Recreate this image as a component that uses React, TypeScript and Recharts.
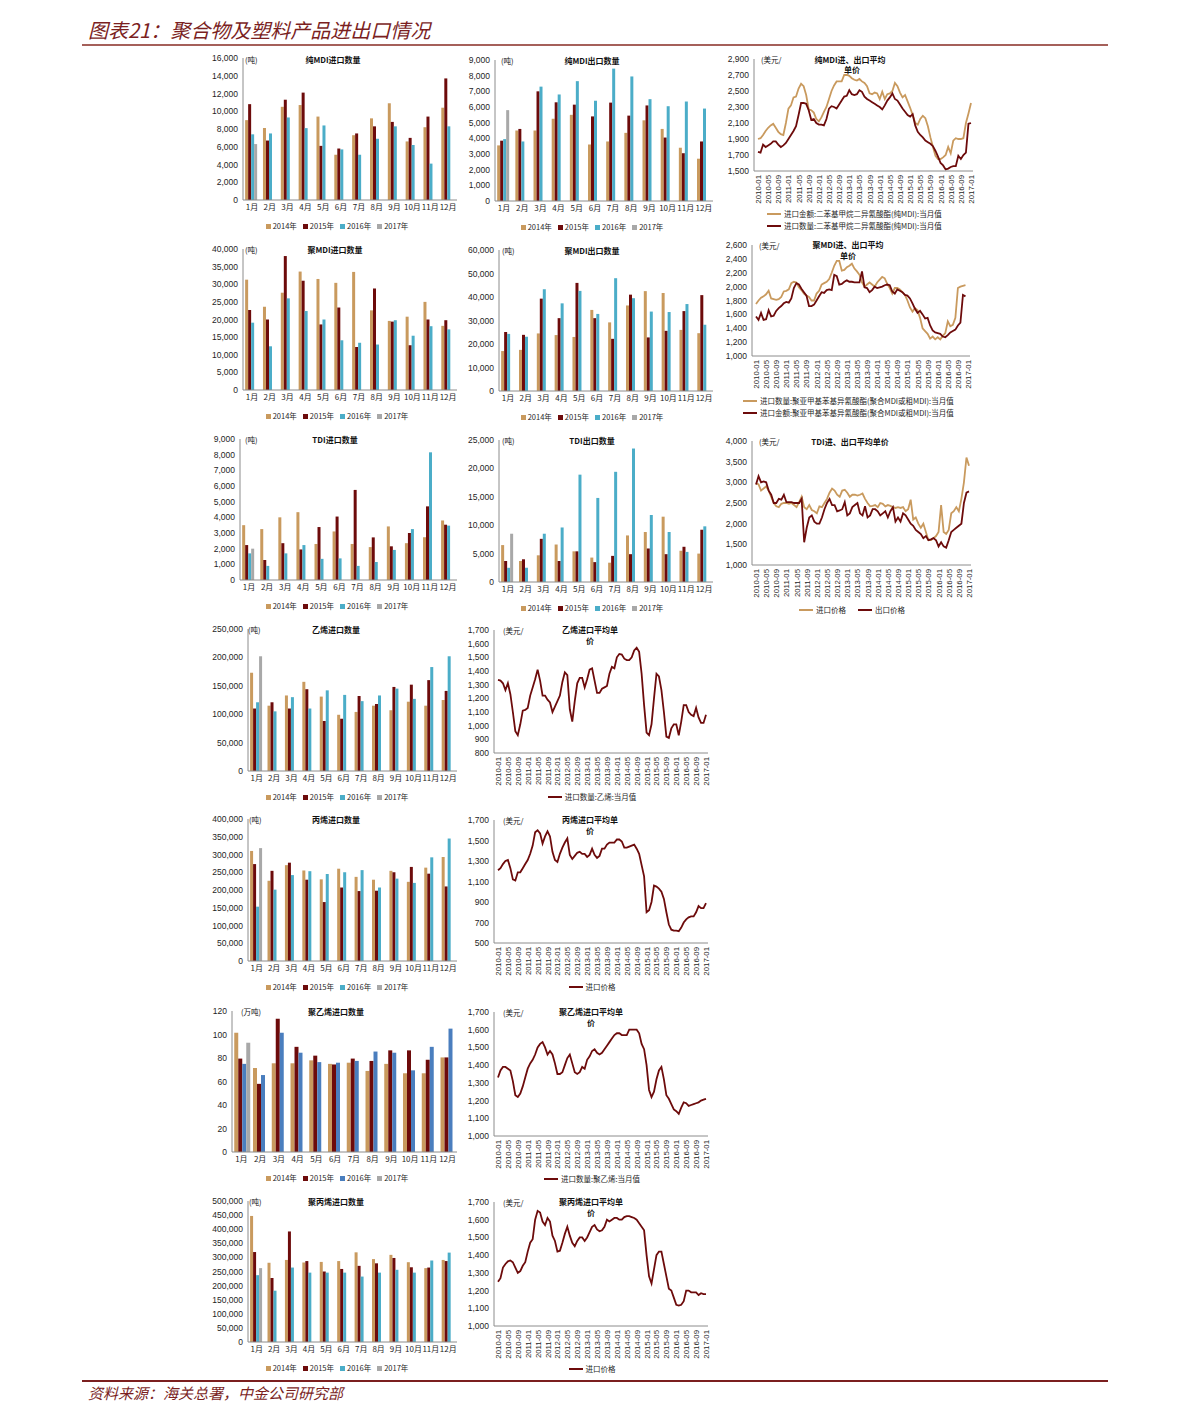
import React from "react"
import { BarChart, Bar, LineChart, Line, XAxis, YAxis, Legend } from "recharts"

const TAN = "#C99A5E"
const MAROON = "#6D0B0B"
const CYAN = "#4BADC8"
const GREY = "#A8A8A8"
const STEEL = "#4A7EBE"
const INK = "#7B1F1F"
const AXIS = "#8C8C8C"
const TXT = "#1E1E1E"
const NUM_FONT = '"Liberation Sans", Arial, sans-serif'
const CJK_FONT = '"Noto Sans CJK SC", "Liberation Sans", sans-serif'

const months = ["1月", "2月", "3月", "4月", "5月", "6月", "7月", "8月", "9月", "10月", "11月", "12月"]
const yearNames = ["2014年", "2015年", "2016年", "2017年"]

// monthly categories 2010-01 .. 2017-01
const dateLabels: string[] = []
for (let y = 2010; y <= 2017; y++) {
  for (let m = 1; m <= 12; m++) {
    if (y === 2017 && m > 1) break
    dateLabels.push(`${y}-${String(m).padStart(2, "0")}`)
  }
}

// ---- bar data (tons, 万吨 for PE) ----
const pmdiImp2014 = [9000, 8100, 10500, 10700, 9400, 5100, 7300, 9200, 10900, 6600, 8200, 10400]
const pmdiImp2015 = [10800, 6700, 11300, 12100, 6100, 5800, 7500, 8300, 8800, 7000, 9400, 13700]
const pmdiImp2016 = [7400, 7500, 9300, 8100, 8400, 5700, 5100, 6900, 8300, 6200, 4100, 8300]
const pmdiImp2017 = [6300]

const pmdiExp2014 = [3550, 4500, 4500, 5250, 5500, 3600, 3800, 4350, 5150, 4600, 3400, 2700]
const pmdiExp2015 = [3850, 4600, 7000, 6300, 6150, 5400, 6280, 5450, 6100, 4050, 3050, 3800]
const pmdiExp2016 = [3950, 3800, 7300, 6800, 7650, 6400, 8450, 7950, 6500, 6050, 6350, 5900]
const pmdiExp2017 = [5800]

const cmdiImp2014 = [31300, 23600, 27600, 33600, 31500, 30400, 33500, 22600, 19600, 20800, 25000, 18200]
const cmdiImp2015 = [22700, 20000, 38000, 31000, 18600, 23400, 12200, 28800, 19400, 12700, 20000, 19800]
const cmdiImp2016 = [19100, 12400, 26000, 22400, 20000, 14100, 13400, 12900, 19800, 15400, 18100, 17200]
const cmdiImp2017: number[] = []

const cmdiExp2014 = [17000, 17500, 24500, 23800, 23000, 34500, 29200, 36400, 42500, 41700, 26000, 24600]
const cmdiExp2015 = [25100, 23900, 39300, 31000, 46000, 31000, 22200, 41000, 22800, 25600, 34000, 40800]
const cmdiExp2016 = [24300, 23100, 43300, 37300, 42600, 32800, 48000, 39500, 33800, 33600, 37000, 28200]
const cmdiExp2017: number[] = []

const tdiImp2014 = [3500, 3250, 4000, 4330, 2300, 3100, 2300, 2100, 3420, 2350, 2730, 3800]
const tdiImp2015 = [2230, 1270, 2350, 1950, 3380, 4050, 5750, 2720, 2150, 3000, 4700, 3530]
const tdiImp2016 = [1700, 900, 1700, 2230, 1350, 1380, 900, 1150, 1920, 3250, 8150, 3470]
const tdiImp2017 = [2000]

const tdiExp2014 = [6500, 3700, 4700, 6600, 5400, 4300, 3400, 8200, 8800, 11500, 5500, 5000]
const tdiExp2015 = [3700, 4000, 7600, 3700, 5400, 3500, 4600, 4900, 5900, 4900, 6200, 9200]
const tdiExp2016 = [2500, 2500, 8500, 9600, 18900, 14800, 19400, 23500, 11800, 8800, 5300, 9800]
const tdiExp2017 = [8500]

const ethImp2014 = [173000, 115000, 133000, 157000, 131000, 99000, 104000, 115000, 107000, 122000, 115000, 125000]
const ethImp2015 = [110000, 121000, 110000, 144000, 88000, 92000, 132000, 118000, 148000, 152000, 160000, 141000]
const ethImp2016 = [121000, 105000, 130000, 110000, 142000, 134000, 123000, 133000, 145000, 127000, 183000, 202000]
const ethImp2017 = [202000]

const propImp2014 = [310000, 226000, 270000, 255000, 230000, 260000, 237000, 229000, 254000, 223000, 263000, 293000]
const propImp2015 = [273000, 254000, 277000, 229000, 166000, 207000, 197000, 198000, 250000, 265000, 246000, 210000]
const propImp2016 = [153000, 201000, 242000, 253000, 245000, 250000, 256000, 207000, 232000, 220000, 292000, 345000]
const propImp2017 = [318000]

const peImp2014 = [101.5, 71.5, 75.5, 75.5, 78, 75, 76, 69, 75, 67, 67, 80.5]
const peImp2015 = [79.5, 58, 113.5, 89.5, 82, 74.5, 79.5, 77.5, 86.5, 86.5, 78.5, 80.5]
const peImp2016 = [75, 65.5, 101.5, 84.5, 76.5, 76, 77.5, 85.5, 84.5, 69.5, 89.5, 105]
const peImp2017 = [93]

const ppImp2014 = [447000, 281000, 291000, 282000, 284000, 287000, 318000, 294000, 309000, 283000, 262000, 291000]
const ppImp2015 = [319000, 227000, 392000, 287000, 250000, 259000, 270000, 279000, 298000, 265000, 264000, 287000]
const ppImp2016 = [237000, 182000, 264000, 246000, 246000, 246000, 232000, 246000, 256000, 246000, 289000, 317000]
const ppImp2017 = [262000]

// ---- monthly unit prices, 2010-01 .. 2017-01 (USD/ton) ----
const pmdiPriceA = [
  1900, 1910, 1950, 2000, 2040, 2070, 2090, 2040, 1990, 1960, 1950, 2100,
  2280, 2320, 2420, 2430, 2530, 2590, 2560, 2450, 2270, 2260, 2230, 2150,
  2120, 2170, 2240, 2300, 2400, 2500, 2570, 2620, 2620, 2620, 2700, 2700,
  2690, 2660, 2640, 2630, 2650, 2620, 2600, 2560, 2470, 2460, 2480, 2470,
  2400, 2490, 2400, 2460, 2470, 2500, 2600, 2560, 2480, 2420, 2450, 2370,
  2290, 2200, 2100, 2080, 2150, 2190, 2160, 2060, 1920, 1800, 1690, 1650,
  1650, 1670, 1700, 1800, 1720, 1880, 1910, 1900, 1900, 1910, 2100, 2220,
  2350,
]
const pmdiPriceB = [
  1740, 1730, 1830, 1800, 1820, 1840, 1870, 1870, 1830, 1800, 1820, 1850,
  1900, 1950, 2000, 2060, 2200, 2350, 2350, 2340, 2260, 2140, 2150, 2100,
  2080, 2080, 2070, 2150, 2280, 2310, 2300, 2280, 2330, 2380, 2430, 2440,
  2510, 2460, 2450, 2460, 2510, 2490, 2430, 2400, 2380, 2360, 2340, 2320,
  2300, 2270, 2320, 2380, 2420, 2470, 2400, 2380, 2330, 2280, 2240, 2200,
  2180, 2210, 2070, 1990, 1950, 1920, 1880, 1860, 1840, 1810, 1750, 1680,
  1600, 1570, 1520, 1530, 1550, 1560, 1560, 1690, 1650, 1700, 1730, 2090,
  2100,
]
const cmdiPriceA = [
  1750, 1800, 1840, 1860, 1890, 1940, 1830, 1820, 1810, 1820, 1850, 1930,
  1940, 1960, 2050, 2070, 2060, 1990, 1950, 1900, 1870, 1850, 1800, 1800,
  1900, 1940, 2030, 2050, 2070, 2110, 2200, 2300, 2370, 2370, 2230, 2240,
  2280, 2300, 2330, 2260, 2220, 2170, 2060, 2000, 2030, 2060, 2030, 2000,
  2060, 2100, 2140, 2120, 2040, 1980, 1900, 1980, 1980, 1960, 1920, 1880,
  1800, 1700, 1640, 1690, 1660, 1550, 1400, 1360, 1320, 1250, 1280, 1240,
  1270, 1240, 1290, 1330, 1500, 1430, 1450, 1550, 1980, 2000, 2010, 2020,
  null,
]
const cmdiPriceB = [
  1570, 1520, 1620, 1520, 1530, 1660, 1570, 1580, 1650, 1690, 1720, 1760,
  1780, 1770, 1830, 1980, 2050, 2030, 1970, 1920, 1870, 1720, 1720, 1740,
  1800, 1860, 1920, 1910, 1950, 1960, 1950, 2170, 2150, 2030, 2040, 2070,
  2090, 2070, 2070, 2060, 2060, 2060, 2220, 1990, 1980, 1920, 1950, 2000,
  1980, 1990, 2000, 2020, 2030, 2020, 1930, 1900, 1960, 1940, 1920, 1880,
  1870, 1830, 1760, 1680, 1620, 1650, 1600, 1540, 1550, 1440, 1370, 1340,
  1330, 1320, 1280, 1270, 1300, 1340, 1360, 1380, 1440, 1480, 1880, 1860,
  null,
]
const tdiPriceA = [
  2980, 2950, 2800, 2850, 2900, 2800, 2650, 2500, 2420, 2400, 2480, 2500,
  2500, 2480, 2500, 2450, 2400, 2520, 2650, 2400, 2350, 2450, 2330, 2300,
  2250, 2420, 2400, 2500, 2600, 2750, 2850, 2800, 2700, 2650, 2800, 2820,
  2750, 2650, 2700, 2700, 2680, 2700, 2730, 2600, 2500, 2420, 2430, 2450,
  2400, 2500, 2480, 2420, 2450, 2430, 2400, 2380, 2400, 2380, 2400, 2300,
  2350, 2580, 2100, 2150, 2000, 1900, 2000, 1800, 1600, 1600, 1650, 1700,
  1800, 2450, 1800, 1750, 1850, 2250, 2300, 2400, 2300, 2600, 3000, 3600,
  3400,
]
const tdiPriceB = [
  2950, 3150, 3000, 3020, 3000, 2800, 2700, 2500, 2500, 2600, 2580, 2700,
  2520, 2520, 2520, 2500, 2500, 2500, 2600, 1550, 1900, 2150, 2200, 2050,
  2000, 2000, 2150, 2350, 2500, 2600, 2450, 2450, 2300, 2320, 2350, 2520,
  2200, 2250, 2400, 2450, 2500, 2250, 2200, 2420, 2150, 2200, 2350, 2350,
  2300, 2200, 2250, 2300, 2150, 2300, 2400, 2050, 2150, 2050, 2250, 2200,
  2100, 2000, 1950, 1850, 1800, 1750, 1650, 1700, 1600, 1620, 1650, 1600,
  1450, 1550, 1450, 1420, 1600, 1800, 1850, 1900, 1950, 2000, 2500, 2750,
  2780,
]
const ethPrice = [
  1335, 1330, 1310, 1260, 1310, 1230, 1100, 960, 930, 1010, 1110, 1115,
  1130, 1220, 1280, 1340, 1410, 1330, 1220, 1220, 1190, 1170, 1100, 1140,
  1180, 1220, 1320, 1390, 1370, 1120, 1030, 1180, 1310, 1350, 1350, 1280,
  1340, 1410, 1420, 1330, 1240, 1240, 1270, 1280, 1290, 1380, 1430, 1420,
  1500, 1525, 1520, 1490, 1480, 1480, 1500, 1550, 1570, 1540, 1380, 1150,
  950, 930, 1010, 1200, 1380, 1360, 1260, 1100, 920, 910, 980, 1010,
  1010, 930, 1030, 1150, 1150, 1100, 1080, 1070, 1130, 1060, 1020, 1020,
  1080,
]
const propPrice = [
  1210, 1230, 1270, 1300, 1310, 1230, 1120, 1110, 1190, 1190, 1230, 1270,
  1310, 1370, 1450, 1580, 1600, 1570, 1470, 1540, 1590, 1540, 1390, 1310,
  1290, 1370, 1430, 1480, 1520, 1360, 1320, 1350, 1380, 1390, 1370, 1370,
  1340, 1360, 1420, 1360, 1330, 1350, 1420, 1420, 1460, 1480, 1480, 1480,
  1510, 1510, 1490, 1430, 1430, 1440, 1450, 1460, 1420, 1370, 1260, 1150,
  800, 820, 900, 1060, 1050, 1030, 1000, 930, 800, 680, 630, 620,
  620, 615, 650, 700, 730, 750, 760, 760, 800, 860, 840, 840,
  890,
]
const pePrice = [
  1330, 1370, 1390, 1390, 1380, 1370, 1310, 1230, 1220, 1240, 1280, 1330,
  1380, 1410, 1430, 1460, 1500, 1520, 1530, 1500, 1460, 1480, 1460, 1410,
  1350, 1350, 1360, 1400, 1440, 1460, 1410, 1360, 1350, 1360, 1390, 1380,
  1430, 1450, 1480, 1490, 1470, 1460, 1470, 1490, 1510, 1530, 1550, 1570,
  1580, 1580, 1570, 1570, 1570, 1600, 1600, 1600, 1600, 1580, 1520, 1490,
  1400, 1260, 1220, 1250, 1320, 1370, 1390, 1320, 1230, 1210, 1180, 1150,
  1140, 1125, 1160, 1190, 1185, 1170, 1175, 1180, 1185, 1190, 1200, 1205,
  1210,
]
const ppPrice = [
  1250, 1270, 1330, 1350, 1365, 1370, 1360, 1330, 1300, 1310, 1340, 1360,
  1420, 1470, 1490, 1600, 1650, 1640, 1590, 1570, 1610, 1590, 1510, 1480,
  1420, 1425, 1470, 1520, 1560, 1510, 1470, 1450, 1480, 1500, 1500, 1480,
  1500, 1530, 1560, 1570, 1545, 1535, 1540, 1560, 1600, 1590, 1600, 1610,
  1610, 1600, 1600, 1615, 1620, 1620, 1615, 1610, 1600, 1580, 1560, 1540,
  1400, 1280, 1240, 1320, 1400, 1420, 1420, 1350, 1280, 1210, 1200, 1160,
  1120, 1115, 1120, 1140, 1200, 1200, 1190, 1190, 1190, 1175, 1185, 1180,
  1180,
]

const fmt = (v: number) => v.toLocaleString("en-US")
const range = (a: number, b: number, s: number) => {
  const out: number[] = []
  for (let v = a; v <= b + 1e-9; v += s) out.push(v)
  return out
}

const barRows = (a: number[], b: number[], c: number[], d: number[]) =>
  months.map((month, i) => ({ month, y2014: a[i], y2015: b[i], y2016: c[i], y2017: d[i] ?? null }))

function Note({ x, y, text, size = 8, bold = false, center = false }: any) {
  return (
    <div
      style={{
        position: "absolute", left: x, top: y - (size + 2) / 2,
        transform: center ? "translateX(-50%)" : undefined,
        fontSize: size, lineHeight: `${size + 2}px`, fontWeight: bold ? 700 : 400,
        whiteSpace: "nowrap", color: "#111", fontFamily: CJK_FONT,
      }}
    >
      {text}
    </div>
  )
}

const barLegend = (props: any) => (
  <div style={{ display: "flex", justifyContent: "center", gap: 6, fontFamily: NUM_FONT, fontSize: 7.5, color: TXT, lineHeight: "10px" }}>
    {(props.payload || []).map((e: any) => (
      <div key={e.value} style={{ display: "flex", alignItems: "center", whiteSpace: "nowrap" }}>
        <span style={{ display: "inline-block", width: 5, height: 5, background: e.color, marginRight: 2 }} />
        <span style={{ fontFamily: CJK_FONT }}>{e.value}</span>
      </div>
    ))}
  </div>
)

const lineLegend = (vertical: boolean) => (props: any) => (
  <div
    style={{
      display: "flex", flexDirection: vertical ? "column" : "row",
      alignItems: vertical ? "flex-start" : "center", justifyContent: "center",
      gap: vertical ? 4 : 12, fontFamily: CJK_FONT, fontSize: 7.5, color: TXT, lineHeight: "8px",
    }}
  >
    {(props.payload || []).map((e: any) => (
      <div key={e.value} style={{ display: "flex", alignItems: "center", whiteSpace: "nowrap" }}>
        <span style={{ display: "inline-block", width: 14, height: 2.5, background: e.color, marginRight: 3 }} />
        {e.value}
      </div>
    ))}
  </div>
)

function BarPanel({ x0, x1, y0, y1, left, max, step, data, c16 = CYAN, legendCx }: any) {
  const mt = 6, xH = 14, mb = 28
  const W = x1 - left + 6
  const H = y1 - y0 + mt + xH + mb
  const top = y0 - mt
  return (
    <div style={{ position: "absolute", left, top }}>
      <BarChart width={W} height={H} data={data} margin={{ top: mt, right: 6, left: 0, bottom: mb }} barGap={0} barCategoryGap="12%">
        <XAxis
          dataKey="month" interval={0} tickLine={false} tickSize={2} tickMargin={2} height={xH}
          axisLine={{ stroke: AXIS }} tick={{ fontSize: 8, fill: TXT, fontFamily: CJK_FONT }}
        />
        <YAxis
          width={x0 - left} domain={[0, max]} ticks={range(0, max, step)} tickFormatter={fmt} interval={0}
          tickLine={false} tickSize={0} tickMargin={5} axisLine={{ stroke: AXIS }}
          tick={{ fontSize: 8.5, fill: TXT, fontFamily: NUM_FONT }}
        />
        <Legend
          verticalAlign="middle" align="center" layout="horizontal" content={barLegend} itemSorter="dataKey"
          wrapperStyle={{ left: legendCx - left - 110, top: y1 + 26 - top - 5, width: 220, height: 10 }}
        />
        <Bar dataKey="y2014" name={yearNames[0]} fill={TAN} isAnimationActive={false} />
        <Bar dataKey="y2015" name={yearNames[1]} fill={MAROON} isAnimationActive={false} />
        <Bar dataKey="y2016" name={yearNames[2]} fill={c16} isAnimationActive={false} />
        <Bar dataKey="y2017" name={yearNames[3]} fill={GREY} isAnimationActive={false} />
      </BarChart>
    </div>
  )
}

const DateTick = (p: any) => (
  <text
    x={p.x} y={p.y} dx={-4} dy={3} transform={`rotate(-90 ${p.x} ${p.y})`}
    textAnchor="end" fontSize={7.8} fill={TXT} fontFamily={NUM_FONT}
  >
    {p.payload.value}
  </text>
)

function LinePanel({ x0, x1, y0, y1, left, ticks, series, legendY, legendX, vertical = false }: any) {
  const mt = 6, xH = 40, mb = vertical ? 30 : 18
  const W = x1 - left + 6
  const H = y1 - y0 + mt + xH + mb
  const top = y0 - mt
  const data = dateLabels.map((d, i) => {
    const row: any = { d }
    series.forEach((s: any, k: number) => { row["s" + k] = s.values[i] })
    return row
  })
  const wrap = vertical
    ? { left: legendX - left, top: legendY - top - 4, width: 240, height: 20 }
    : { left: legendX - left - 120, top: legendY - top - 4, width: 240, height: 8 }
  return (
    <div style={{ position: "absolute", left, top }}>
      <LineChart width={W} height={H} data={data} margin={{ top: mt, right: 6, left: 0, bottom: mb }}>
        <XAxis
          dataKey="d" interval={3} tickLine={false} tickSize={0} tickMargin={0} height={xH}
          axisLine={{ stroke: AXIS }} tick={(p: any) => <DateTick {...p} />} padding={{ left: 4, right: 2 }}
        />
        <YAxis
          width={x0 - left} domain={[ticks[0], ticks[ticks.length - 1]]} ticks={ticks} tickFormatter={fmt} interval={0}
          tickLine={false} tickSize={0} tickMargin={5} axisLine={{ stroke: AXIS }}
          tick={{ fontSize: 8.5, fill: TXT, fontFamily: NUM_FONT }}
        />
        <Legend verticalAlign="middle" align="center" layout="horizontal" content={lineLegend(vertical)} itemSorter="dataKey" wrapperStyle={wrap} />
        {series.map((s: any, k: number) => (
          <Line
            key={k} type="linear" dataKey={"s" + k} name={s.name} stroke={s.color}
            strokeWidth={1.8} dot={false} isAnimationActive={false}
          />
        ))}
      </LineChart>
    </div>
  )
}

export default function App() {
  return (
    <div style={{ position: "absolute", left: 0, top: 0, width: 1191, height: 1421, background: "#fff", overflow: "hidden", fontFamily: CJK_FONT }}>
      <div style={{ position: "absolute", left: 88, top: 17, fontSize: 20, lineHeight: "26px", fontStyle: "italic", color: INK, whiteSpace: "nowrap" }}>
        图表21：聚合物及塑料产品进出口情况
      </div>
      <div style={{ position: "absolute", left: 82, top: 44, width: 1026, height: 2, background: "#A5605A" }} />

      {/* row 1 */}
      <BarPanel x0={243} x1={457} y0={58} y1={200} left={200} max={16000} step={2000} legendCx={337}
        data={barRows(pmdiImp2014, pmdiImp2015, pmdiImp2016, pmdiImp2017)} />
      <Note x={333} y={60} text="纯MDI进口数量" bold center />
      <Note x={245} y={60} text="(吨)" size={7.5} />

      <BarPanel x0={495} x1={713} y0={60} y1={201} left={462} max={9000} step={1000} legendCx={592}
        data={barRows(pmdiExp2014, pmdiExp2015, pmdiExp2016, pmdiExp2017)} />
      <Note x={592} y={61} text="纯MDI出口数量" bold center />
      <Note x={501} y={61} text="(吨)" size={7.5} />

      <LinePanel x0={754} x1={973} y0={59} y1={171} left={715} ticks={range(1500, 2900, 200)}
        vertical legendX={767} legendY={214}
        series={[
          { name: "进口金额:二苯基甲烷二异氰酸酯(纯MDI):当月值", color: TAN, values: pmdiPriceA },
          { name: "进口数量:二苯基甲烷二异氰酸酯(纯MDI):当月值", color: MAROON, values: pmdiPriceB },
        ]} />
      <Note x={850} y={60} text="纯MDI进、出口平均" bold center />
      <Note x={852} y={70} text="单价" bold center />
      <Note x={761} y={60} text="(美元/" size={7.5} />

      {/* row 2 */}
      <BarPanel x0={243} x1={457} y0={249} y1={390} left={200} max={40000} step={5000} legendCx={337}
        data={barRows(cmdiImp2014, cmdiImp2015, cmdiImp2016, cmdiImp2017)} />
      <Note x={335} y={250} text="聚MDI进口数量" bold center />
      <Note x={245} y={250} text="(吨)" size={7.5} />

      <BarPanel x0={499} x1={713} y0={250} y1={391} left={462} max={60000} step={10000} legendCx={592}
        data={barRows(cmdiExp2014, cmdiExp2015, cmdiExp2016, cmdiExp2017)} />
      <Note x={592} y={251} text="聚MDI出口数量" bold center />
      <Note x={502} y={251} text="(吨)" size={7.5} />

      <LinePanel x0={752} x1={970} y0={245} y1={356} left={715} ticks={range(1000, 2600, 200)}
        vertical legendX={743} legendY={401}
        series={[
          { name: "进口数量:聚亚甲基苯基异氰酸酯(聚合MDI或粗MDI):当月值", color: TAN, values: cmdiPriceA },
          { name: "进口金额:聚亚甲基苯基异氰酸酯(聚合MDI或粗MDI):当月值", color: MAROON, values: cmdiPriceB },
        ]} />
      <Note x={848} y={245} text="聚MDI进、出口平均" bold center />
      <Note x={848} y={256} text="单价" bold center />
      <Note x={759} y={246} text="(美元/" size={7.5} />

      {/* row 3 */}
      <BarPanel x0={240} x1={457} y0={439} y1={580} left={200} max={9000} step={1000} legendCx={337}
        data={barRows(tdiImp2014, tdiImp2015, tdiImp2016, tdiImp2017)} />
      <Note x={335} y={440} text="TDI进口数量" bold center />
      <Note x={245} y={440} text="(吨)" size={7.5} />

      <BarPanel x0={499} x1={713} y0={440} y1={582} left={462} max={25000} step={5000} legendCx={592}
        data={barRows(tdiExp2014, tdiExp2015, tdiExp2016, tdiExp2017)} />
      <Note x={592} y={441} text="TDI出口数量" bold center />
      <Note x={502} y={441} text="(吨)" size={7.5} />

      <LinePanel x0={752} x1={971} y0={441} y1={565} left={715} ticks={range(1000, 4000, 500)}
        legendX={852} legendY={610}
        series={[
          { name: "进口价格", color: TAN, values: tdiPriceA },
          { name: "出口价格", color: MAROON, values: tdiPriceB },
        ]} />
      <Note x={850} y={442} text="TDI进、出口平均单价" bold center />
      <Note x={759} y={442} text="(美元/" size={7.5} />

      {/* row 4 */}
      <BarPanel x0={248} x1={457} y0={629} y1={771} left={200} max={250000} step={50000} legendCx={337}
        data={barRows(ethImp2014, ethImp2015, ethImp2016, ethImp2017)} />
      <Note x={336} y={630} text="乙烯进口数量" bold center />
      <Note x={248} y={630} text="(吨)" size={7.5} />

      <LinePanel x0={494} x1={708} y0={630} y1={753} left={455} ticks={range(800, 1700, 100)}
        legendX={592} legendY={797}
        series={[{ name: "进口数量:乙烯:当月值", color: MAROON, values: ethPrice }]} />
      <Note x={590} y={630} text="乙烯进口平均单" bold center />
      <Note x={590} y={641} text="价" bold center />
      <Note x={503} y={631} text="(美元/" size={7.5} />

      {/* row 5 */}
      <BarPanel x0={248} x1={457} y0={819} y1={961} left={200} max={400000} step={50000} legendCx={337}
        data={barRows(propImp2014, propImp2015, propImp2016, propImp2017)} />
      <Note x={336} y={820} text="丙烯进口数量" bold center />
      <Note x={249} y={820} text="(吨)" size={7.5} />

      <LinePanel x0={494} x1={708} y0={820} y1={943} left={455} ticks={range(500, 1700, 200)}
        legendX={592} legendY={987}
        series={[{ name: "进口价格", color: MAROON, values: propPrice }]} />
      <Note x={590} y={820} text="丙烯进口平均单" bold center />
      <Note x={590} y={831} text="价" bold center />
      <Note x={503} y={821} text="(美元/" size={7.5} />

      {/* row 6 */}
      <BarPanel x0={232} x1={457} y0={1011} y1={1152} left={200} max={120} step={20} legendCx={337} c16={STEEL}
        data={barRows(peImp2014, peImp2015, peImp2016, peImp2017)} />
      <Note x={336} y={1012} text="聚乙烯进口数量" bold center />
      <Note x={241} y={1012} text="(万吨)" size={7.5} />

      <LinePanel x0={494} x1={708} y0={1012} y1={1136} left={455} ticks={range(1000, 1700, 100)}
        legendX={592} legendY={1179}
        series={[{ name: "进口数量:聚乙烯:当月值", color: MAROON, values: pePrice }]} />
      <Note x={591} y={1012} text="聚乙烯进口平均单" bold center />
      <Note x={591} y={1023} text="价" bold center />
      <Note x={503} y={1013} text="(美元/" size={7.5} />

      {/* row 7 */}
      <BarPanel x0={248} x1={457} y0={1201} y1={1342} left={200} max={500000} step={50000} legendCx={337}
        data={barRows(ppImp2014, ppImp2015, ppImp2016, ppImp2017)} />
      <Note x={336} y={1202} text="聚丙烯进口数量" bold center />
      <Note x={249} y={1202} text="(吨)" size={7.5} />

      <LinePanel x0={494} x1={708} y0={1202} y1={1326} left={455} ticks={range(1000, 1700, 100)}
        legendX={592} legendY={1369}
        series={[{ name: "进口价格", color: MAROON, values: ppPrice }]} />
      <Note x={591} y={1202} text="聚丙烯进口平均单" bold center />
      <Note x={591} y={1213} text="价" bold center />
      <Note x={503} y={1203} text="(美元/" size={7.5} />

      <div style={{ position: "absolute", left: 82, top: 1380, width: 1026, height: 1.5, background: INK }} />
      <div style={{ position: "absolute", left: 88, top: 1383, fontSize: 15, lineHeight: "20px", fontStyle: "italic", color: INK, whiteSpace: "nowrap" }}>
        资料来源：海关总署，中金公司研究部
      </div>
    </div>
  )
}
